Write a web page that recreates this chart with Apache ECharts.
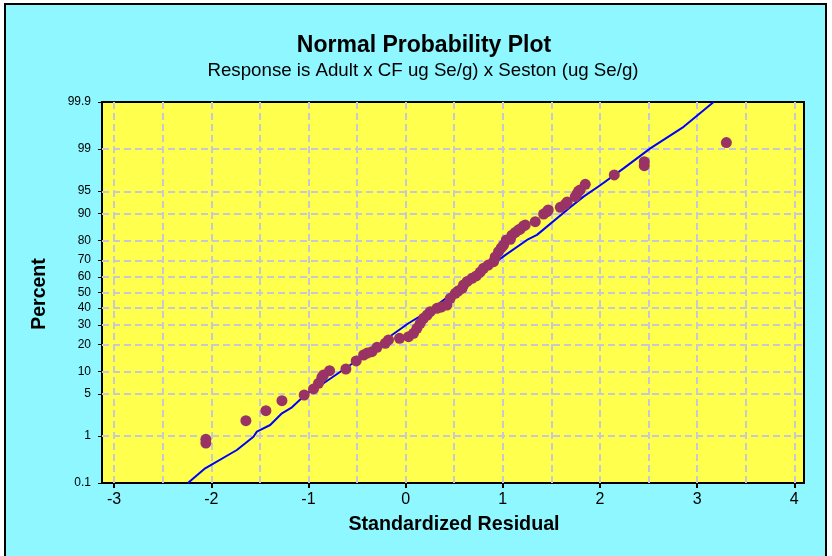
<!DOCTYPE html>
<html>
<head>
<meta charset="utf-8">
<script src="https://cdn.jsdelivr.net/npm/echarts@6/dist/echarts.min.js"></script>
<style>
html,body{margin:0;padding:0;background:#ffffff;}
#chart{width:832px;height:556px;}
</style>
</head>
<body>
<div id="chart"></div>
<script>
// ---- data ----
const titleText = 'Normal Probability Plot';
const subtitleText = 'Response is Adult x CF ug Se/g) x Seston (ug Se/g)';
const xAxisTitle = 'Standardized Residual';
const yAxisTitle = 'Percent';

// standardized residuals (x) and their plotted percent (y)
const residuals = [-2.056,-2.056,-1.644,-1.438,-1.273,-1.044,-0.948,-0.897,-0.862,-0.845,
  -0.783,-0.615,-0.509,-0.433,-0.395,-0.347,-0.295,-0.210,-0.176,-0.063,
  0.030,0.081,0.116,0.150,0.184,0.222,0.253,0.322,0.366,0.425,
  0.459,0.511,0.540,0.580,0.596,0.634,0.683,0.727,0.768,0.802,
  0.850,0.905,0.922,0.956,0.984,1.008,1.036,1.077,1.094,1.128,
  1.162,1.180,1.214,1.231,1.334,1.420,1.455,1.468,1.592,1.643,
  1.663,1.746,1.763,1.780,1.797,1.849,2.147,2.456,2.456,3.301];
const percents = [0.73,0.86,1.88,2.76,3.96,4.82,5.88,7.04,8.44,9.04,
  10.24,10.73,13.33,15.53,16.3,16.85,18.70,20.50,22.06,22.88,
  23.67,25.40,28.07,30.85,33.78,35.76,37.78,39.9,40.7,41.97,
  46.25,49.48,50.97,52.6,54.84,57.1,59.1,60.6,63.0,65.3,
  67.2,69.15,71.8,74.6,76.5,77.95,80.3,80.6,82.4,83.5,
  84.5,84.85,85.97,86.3,87.45,89.85,90.5,90.96,91.65,92.38,
  92.9,93.99,94.5,95.0,95.2,96.04,97.17,98.02,98.31,99.25];

// fitted reference line (x, percent)
const lineX = [-2.241,-2.063,-1.737,-1.566,-1.531,-1.394,-1.273,-1.170,-1.016,-0.845,
  -0.570,-0.141,0.030,0.253,0.528,1.025,1.249,1.352,1.694,1.831,
  2.003,2.243,2.518,2.861,3.170];
const linePct = [0.1,0.217,0.531,0.967,1.20,1.58,2.50,3.13,5.10,7.04,
  11.98,24.5,30.9,38.8,51.6,72.8,80.3,82.5,91.65,94.0,
  95.9,97.8,99.03,99.64,99.9];

const yTickLabels = [0.1,1,5,10,20,30,40,50,60,70,80,90,95,99,99.9];
const yGridPct = [1,5,10,20,30,40,50,60,70,80,90,95,99];
const xTickLabels = [-3,-2,-1,0,1,2,3,4];
const xGridVals = [-3,-2.5,-2,-1.5,-1,-0.5,0,0.5,1,1.5,2,2.5,3,3.5,4];

// ---- normal probability scale transform (inverse normal CDF, Acklam) ----
function probit(pct){
  const p = pct/100;
  const a=[-3.969683028665376e+01,2.209460984245205e+02,-2.759285104469687e+02,1.383577518672690e+02,-3.066479806614716e+01,2.506628277459239e+00];
  const b=[-5.447609879822406e+01,1.615858368580409e+02,-1.556989798598866e+02,6.680131188771972e+01,-1.328068155288572e+01];
  const c=[-7.784894002430293e-03,-3.223964580411365e-01,-2.400758277161838e+00,-2.549732539343734e+00,4.374664141464968e+00,2.938163982698783e+00];
  const d=[7.784695709041462e-03,3.224671290700398e-01,2.445134137142996e+00,3.754408661907416e+00];
  const pl=0.02425, ph=1-pl;
  let q,r;
  if(p<pl){q=Math.sqrt(-2*Math.log(p));return (((((c[0]*q+c[1])*q+c[2])*q+c[3])*q+c[4])*q+c[5])/((((d[0]*q+d[1])*q+d[2])*q+d[3])*q+1);}
  if(p<=ph){q=p-0.5;r=q*q;return (((((a[0]*r+a[1])*r+a[2])*r+a[3])*r+a[4])*r+a[5])*q/(((((b[0]*r+b[1])*r+b[2])*r+b[3])*r+b[4])*r+1);}
  q=Math.sqrt(-2*Math.log(1-p));return -(((((c[0]*q+c[1])*q+c[2])*q+c[3])*q+c[4])*q+c[5])/((((d[0]*q+d[1])*q+d[2])*q+d[3])*q+1);
}

const yTickVals = yTickLabels.map(probit);
function yLabel(v){
  let best=0,bd=1e9;
  yTickVals.forEach((t,i)=>{const dd=Math.abs(t-v); if(dd<bd){bd=dd;best=i;}});
  return String(yTickLabels[best]);
}

const pointData = residuals.map((x,i)=>[x, probit(percents[i])]);
const lineData = lineX.map((x,i)=>[x, probit(linePct[i])]);

const FONT = '"Liberation Sans",Arial,sans-serif';
const gridStyle = {color:'#C8C8D2', type:[7,4], width:2};

const chart = echarts.init(document.getElementById('chart'), null, {renderer:'canvas'});
chart.setOption({
  animation:false,
  backgroundColor:'#ffffff',
  textStyle:{fontFamily:FONT},
  graphic:[
    {type:'rect', z:-10, silent:true, shape:{x:5,y:4,width:821,height:560},
     style:{fill:'#8FF7FF', stroke:'#000', lineWidth:2}},
    {type:'text', x:424, y:46, silent:true,
     style:{text:titleText, fill:'#000', font:'bold 23px '+FONT, align:'center', verticalAlign:'middle'}},
    {type:'text', x:423, y:71, silent:true,
     style:{text:subtitleText, fill:'#000', font:'18.7px '+FONT, align:'center', verticalAlign:'middle'}},
    {type:'text', x:454, y:525, silent:true,
     style:{text:xAxisTitle, fill:'#000', font:'bold 19.7px '+FONT, align:'center', verticalAlign:'middle'}},
    {type:'text', x:40, y:294, rotation:Math.PI/2, silent:true,
     style:{text:yAxisTitle, fill:'#000', font:'bold 19.5px '+FONT, align:'center', verticalAlign:'middle'}}
  ],
  grid:{left:102, right:28, top:102, bottom:73, show:true,
        backgroundColor:'#FFFF4D', borderColor:'#000', borderWidth:2},
  xAxis:{
    type:'value', min:-3.125, max:4.1,
    axisLine:{onZero:false, lineStyle:{color:'#000', width:2}},
    axisTick:{show:true, length:5, customValues:xTickLabels, lineStyle:{color:'#000', width:2}},
    axisLabel:{customValues:xTickLabels, color:'#000', fontSize:16, margin:9, fontFamily:FONT},
    splitLine:{show:false}
  },
  yAxis:{
    type:'value', min:probit(0.1), max:probit(99.9),
    axisLine:{onZero:false, lineStyle:{color:'#000', width:2}},
    axisTick:{show:true, length:4, customValues:yTickVals, lineStyle:{color:'#000', width:1}},
    axisLabel:{customValues:yTickVals, formatter:yLabel, color:'#000', fontSize:12, margin:11, fontFamily:FONT},
    splitLine:{show:false}
  },
  series:[
    {type:'line', data:[], z:1, silent:true,
     markLine:{z:1, silent:true, symbol:['none','none'], label:{show:false}, lineStyle:gridStyle,
       emphasis:{disabled:true},
       data: xGridVals.map(v=>({xAxis:v})).concat(yGridPct.map(p=>({yAxis:probit(p)})))}},
    {type:'line', data:lineData, z:6, showSymbol:false, symbol:'none', silent:true,
     lineStyle:{color:'#0000FF', width:2}},
    {type:'scatter', data:pointData, z:8, symbol:'circle', symbolSize:11,
     itemStyle:{color:'#993366', opacity:1}}
  ]
});
</script>
</body>
</html>
